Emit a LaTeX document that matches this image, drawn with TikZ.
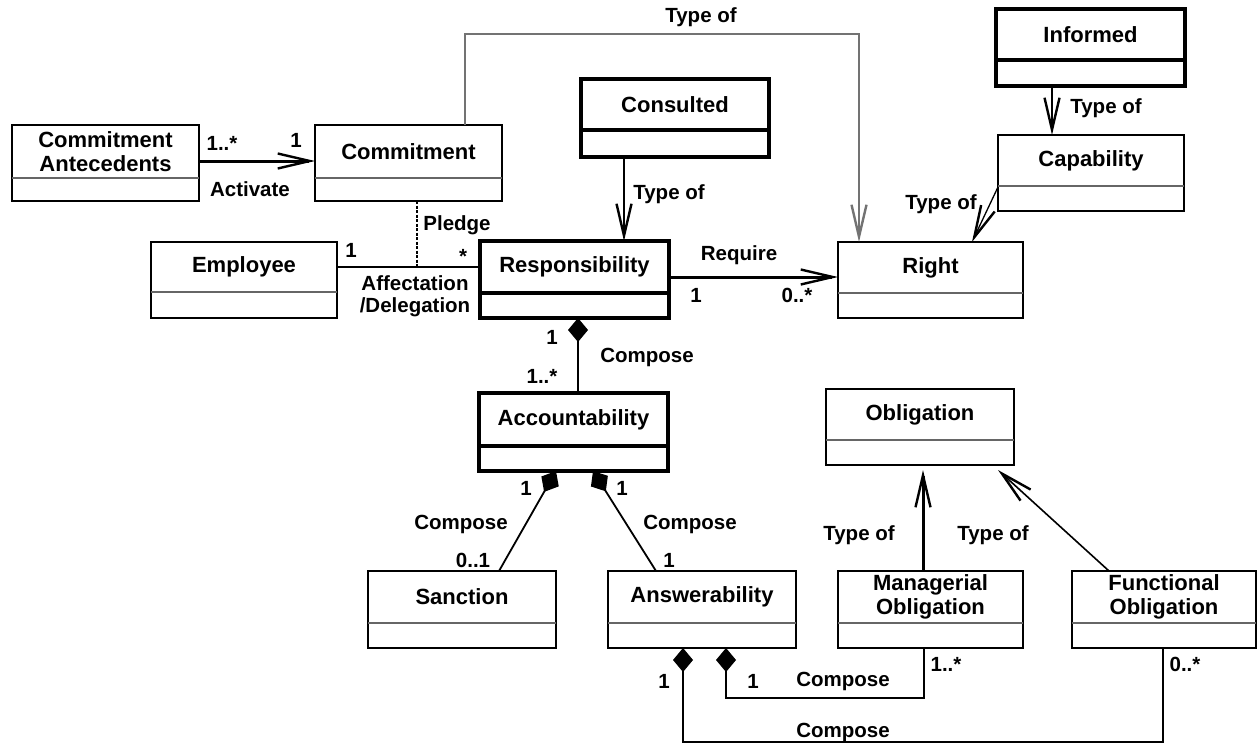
\documentclass[tikz,border=0pt]{standalone}
\usepackage{fontspec}
\setmainfont{Liberation Sans}
\usetikzlibrary{arrows.meta,calc}
\tikzset{
 clsthin/.style={draw=black, line width=1.6pt, rectangle, inner sep=0pt, outer sep=0pt},
 clsthick/.style={draw=black, line width=4pt, rectangle, inner sep=0pt, outer sep=0pt},
 divthin/.style={draw=black!60, line width=1.3pt},
 divthick/.style={draw=black, line width=4pt},
 ctext/.style={font=\fontsize{22}{23.5}\selectfont\bfseries, align=center, inner sep=0pt},
 lbl/.style={font=\fontsize{20.5}{22.5}\selectfont\bfseries, align=center, inner sep=0pt},
 conn/.style={draw=black, line width=1.3pt},
 connthick/.style={draw=black, line width=3pt},
 loopline/.style={draw=black!55, line width=1.4pt},
 openarr/.style={-{Straight Barb[length=32pt,width=15pt,line width=2.4pt]}},
 compdia/.style={{Diamond[length=24pt,width=20pt]}-},
 pledgeline/.style={draw=black, line width=1.6pt, dash pattern=on 3pt off 1.5pt},
}
\newcommand\umlbox[8]{%
 \node[cls#7, minimum width={#4-#2}, minimum height={#5-#3}, anchor=north west] (#1) at (#2,#3) {};
 \draw[div#7] (#2,#6) -- (#4,#6);
 \node[ctext] at ({(#2+#4)/2},{(#3+#6)/2}) {#8};
}
\begin{document}
\begin{tikzpicture}[x=1pt,y=-1pt]
\useasboundingbox[fill=white] (0,0) rectangle (1257,744);
% classes
\umlbox{ante}{12}{125}{199}{201}{178}{thin}{Commitment\\Antecedents}
\umlbox{commit}{315}{125}{502}{201}{178}{thin}{Commitment}
\umlbox{emp}{151}{242}{337}{318}{292}{thin}{Employee}
\umlbox{resp}{480}{241}{669}{318}{293}{thick}{Responsibility}
\umlbox{cons}{581}{79}{769}{157}{130}{thick}{Consulted}
\umlbox{right}{838}{242}{1023}{318}{293}{thin}{Right}
\umlbox{inf}{996}{9}{1185}{86}{60}{thick}{Informed}
\umlbox{cap}{998}{135}{1184}{211}{186}{thin}{Capability}
\umlbox{acc}{479}{393}{668}{471}{446}{thick}{Accountability}
\umlbox{sanc}{368}{571}{556}{648}{623}{thin}{Sanction}
\umlbox{answ}{608}{571}{796}{648}{623}{thin}{Answerability}
\umlbox{obl}{826}{389}{1014}{465}{440}{thin}{Obligation}
\umlbox{man}{838}{571}{1023}{648}{623}{thin}{Managerial\\Obligation}
\umlbox{func}{1072}{571}{1256}{648}{623}{thin}{Functional\\Obligation}
% helper coordinates
\coordinate (looptop) at (700,34);
\coordinate (pledgeend) at (417,266);
\coordinate (mancorner) at (800,698);
\coordinate (funccorner) at (900,742);
% connectors
\draw[connthick,openarr] ([yshift=2pt]ante.east) -- ([yshift=2pt]commit.west);
\draw[loopline,openarr] ([xshift=56.5pt]commit.north) |- (looptop) -| ([xshift=-71.5pt]right.north);
\draw[pledgeline] ([xshift=8.5pt]commit.south) -- (pledgeend);
\draw[conn] ([yshift=13pt]emp.east) -- ([yshift=12.5pt]resp.west);
\draw[conn,openarr] ([xshift=-51pt]cons.south) -- ([xshift=49.5pt]resp.north);
\draw[connthick,openarr] ([yshift=2.5pt]resp.east) -- ([yshift=3pt]right.west);
\draw[conn,openarr] ([xshift=-38.5pt]inf.south) -- ([xshift=-39pt]cap.north);
\draw[conn,openarr] ([yshift=-14pt]cap.west) -- ([xshift=41.5pt]right.north);
\draw[conn,line width=1.8pt,compdia] ([xshift=3.5pt]resp.south) -- ([xshift=4.5pt]acc.north);
\draw[conn,line width=1.8pt,compdia] ([xshift=-17.5pt]acc.south) -- ([xshift=37pt]sanc.north);
\draw[conn,line width=1.8pt,compdia] ([xshift=19.5pt]acc.south) -- ([xshift=-46pt]answ.north);
\draw[connthick,openarr] ([xshift=-7.5pt]man.north) -- ([xshift=3pt,yshift=-5pt]obl.south);
\draw[conn,line width=1.6pt,openarr] ([xshift=-55pt]func.north) -- ([xshift=78pt,yshift=-5pt]obl.south);
\draw[conn,compdia] ([xshift=24pt]answ.south) |- (mancorner) -| ([xshift=-6.5pt]man.south);
\draw[conn,compdia] ([xshift=-19pt]answ.south) |- (funccorner) -| ([xshift=-1pt]func.south);
% labels
\node[lbl] (l1) at (222,143) {1..*};
\node[lbl] (l2) at (296,140) {1};
\node[lbl] (l3) at (250,189) {Activate};
\node[lbl] (l4) at (457,225) {Pledge};
\node[lbl] (l5) at (351,250) {1};
\node[lbl] (l6) at (463,256) {*};
\node[lbl] (l7) at (415,296) {Affectation\\/Delegation};
\node[lbl] (l8) at (701,17) {Type of};
\node[lbl] (l9) at (669,194) {Type of};
\node[lbl] (l10) at (739,255) {Require};
\node[lbl] (l11) at (696,295) {1};
\node[lbl] (l12) at (797,295) {0..*};
\node[lbl] (l13) at (1106,108) {Type of};
\node[lbl] (l14) at (941,204) {Type of};
\node[lbl] (l15) at (552,337) {1};
\node[lbl] (l16) at (647,357) {Compose};
\node[lbl] (l17) at (542,376) {1..*};
\node[lbl] (l18) at (526,488) {1};
\node[lbl] (l19) at (622,488) {1};
\node[lbl] (l20) at (461,524) {Compose};
\node[lbl] (l21) at (690,524) {Compose};
\node[lbl] (l22) at (473,560) {0..1};
\node[lbl] (l23) at (669,560) {1};
\node[lbl] (l24) at (859,535) {Type of};
\node[lbl] (l25) at (993,535) {Type of};
\node[lbl] (l26) at (664,681) {1};
\node[lbl] (l27) at (753,681) {1};
\node[lbl] (l28) at (843,681) {Compose};
\node[lbl] (l29) at (946,664) {1..*};
\node[lbl] (l30) at (1185,664) {0..*};
\node[lbl] (l31) at (843,732) {Compose};
\end{tikzpicture}
\end{document}
